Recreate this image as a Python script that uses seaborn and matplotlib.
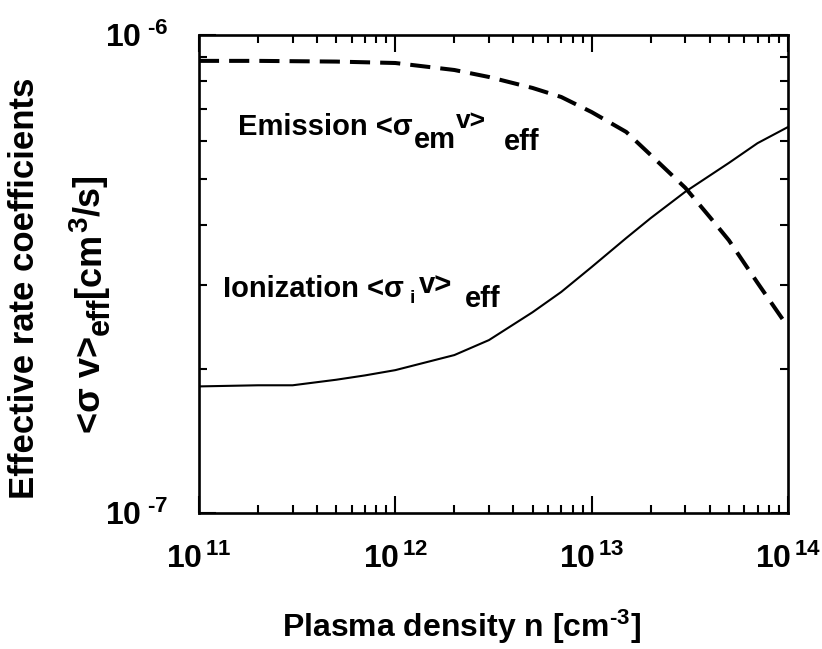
import numpy as np
import pandas as pd
import matplotlib
matplotlib.use('Agg')
import matplotlib.pyplot as plt
import matplotlib.transforms as mtransforms
import seaborn as sns

# valores (densidade em cm^-3, coeficientes em cm^3/s)
densidade_em = [1e11, 2e11, 5e11, 1e12, 2e12, 3e12, 5e12, 7e12, 1e13, 1.5e13,
                2e13, 3e13, 4e13, 5e13, 7e13, 1e14]
emissao = [8.83e-7, 8.83e-7, 8.80e-7, 8.74e-7, 8.45e-7, 8.17e-7, 7.75e-7, 7.42e-7,
           6.90e-7, 6.27e-7, 5.61e-7, 4.79e-7, 4.16e-7, 3.72e-7, 3.03e-7, 2.45e-7]

densidade_ion = [1e11, 2e11, 3e11, 5e11, 7e11, 1e12, 2e12, 3e12, 5e12, 7e12,
                 1e13, 1.5e13, 2e13, 3e13, 5e13, 7e13, 1e14]
ionizacao = [1.84e-7, 1.85e-7, 1.85e-7, 1.90e-7, 1.94e-7, 1.99e-7, 2.14e-7, 2.30e-7,
             2.63e-7, 2.90e-7, 3.27e-7, 3.76e-7, 4.14e-7, 4.70e-7, 5.40e-7, 5.94e-7,
             6.42e-7]

x_ticks = [1e11, 1e12, 1e13, 1e14]
x_tick_labels = ['10$^{\\,11}$', '10$^{\\,12}$', '10$^{\\,13}$', '10$^{\\,14}$']
y_ticks = [1e-7, 1e-6]
y_tick_labels = ['10$^{\\,\\,\\text{-}7}$', '10$^{\\,\\,\\text{-}6}$']

df_em = pd.DataFrame({'densidade': densidade_em, 'coef': emissao})
df_ion = pd.DataFrame({'densidade': densidade_ion, 'coef': ionizacao})

sns.set_style('ticks')
plt.rcParams['font.family'] = ['Liberation Sans', 'DejaVu Sans']
plt.rcParams['font.weight'] = 'bold'
plt.rcParams['text.color'] = 'black'
plt.rcParams['xtick.color'] = 'black'
plt.rcParams['ytick.color'] = 'black'
plt.rcParams['mathtext.fontset'] = 'custom'
plt.rcParams['mathtext.rm'] = 'Liberation Sans:bold'
plt.rcParams['mathtext.it'] = 'Liberation Sans:bold'
plt.rcParams['mathtext.bf'] = 'Liberation Sans:bold'
plt.rcParams['mathtext.default'] = 'rm'

W, H = 822, 649
fig = plt.figure(figsize=(W / 100, H / 100), dpi=100)
ax = fig.add_axes([0.242, 0.2096, 0.7166, 0.7364])

sns.lineplot(data=df_em, x='densidade', y='coef', ax=ax, color='black',
             linewidth=2.9, linestyle=(0, (5, 2.5)))
sns.lineplot(data=df_ion, x='densidade', y='coef', ax=ax, color='black',
             linewidth=1.5)

ax.set_xscale('log')
ax.set_yscale('log')
ax.set_xlim(1e11, 1e14)
ax.set_ylim(1e-7, 1e-6)

ax.set_xticks(x_ticks)
ax.set_xticklabels(x_tick_labels)
ax.set_yticks(y_ticks)
ax.set_yticklabels(y_tick_labels)

for s in ax.spines.values():
    s.set_linewidth(1.9)
    s.set_color('black')

ax.tick_params(which='both', direction='in', top=True, right=True, color='black')
ax.tick_params(which='major', length=12, width=1.5)
ax.tick_params(which='minor', length=6, width=1.5)
ax.tick_params(axis='x', which='major', labelsize=23, pad=22)
ax.tick_params(axis='y', which='major', labelsize=23, pad=22)
ax.tick_params(axis='y', which='minor', labelleft=False)
ax.tick_params(axis='x', which='minor', labelbottom=False)

ax.set_xlabel('')
ax.set_ylabel('')

renderer = fig.canvas.get_renderer()


def texto_em_partes(px, py, partes, rotacao=0):
    # escreve o texto em pedacos (tamanho e deslocamento proprios), em pixels
    avanco = 0
    for txt, tam, dy, gap in partes:
        avanco += gap
        if rotacao == 0:
            ox, oy = avanco, dy
        else:
            ox, oy = -dy, avanco
        tr = mtransforms.offset_copy(fig.transFigure, fig=fig, x=ox, y=oy, units='dots')
        t = fig.text(px / W, 1 - py / H, txt, transform=tr, fontsize=tam,
                     fontweight='bold', rotation=rotacao, rotation_mode='anchor',
                     ha='left', va='baseline')
        bb = t.get_window_extent(renderer)
        avanco += bb.width if rotacao == 0 else bb.height


# Textos das curvas
texto_em_partes(238, 135, [('Emission <σ', 21, 0, 0), ('em', 21, -13, 1),
                           ('v>', 19, 7, 0), ('eff', 21, -15, 18)])
texto_em_partes(223, 297, [('Ionization <σ', 21, 0, 0), ('i', 14, -6, 6),
                           ('v>', 21, 4, 4), ('eff', 21, -10, 12)])

fig.text(0.562, 0.034, 'Plasma density n [cm$^{\\text{-}3}$]', fontsize=23,
         fontweight='bold', ha='center', va='center')
fig.text(25 / W, 1 - 288 / H, 'Effective rate coefficients', fontsize=25,
         fontweight='bold', rotation=90, ha='center', va='center')
texto_em_partes(100, 433, [('<σ v>', 26, 0, 0), ('eff', 22, -9, 1),
                           ('[cm', 26, 0, 0), ('3', 20, 13, 1), ('/s]', 26, 0, 1)],
                rotacao=90)

fig.savefig('out.png', dpi=100)
